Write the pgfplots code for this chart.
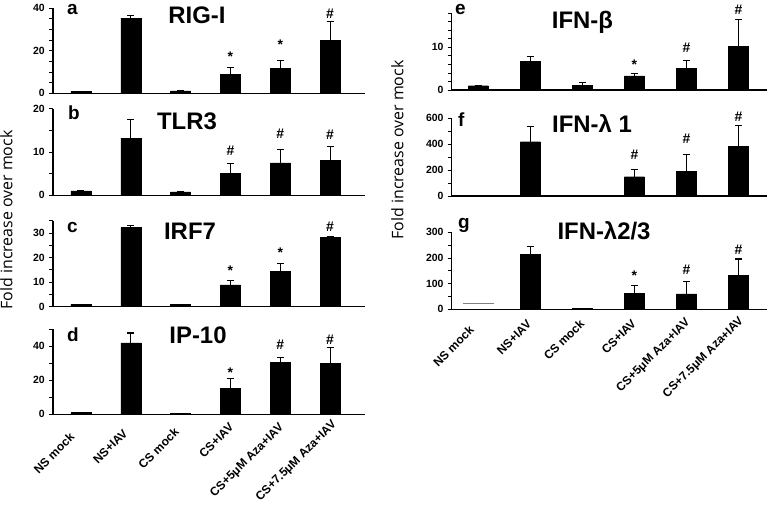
\documentclass[border=0pt]{standalone}
\usepackage{pgfplots}
\pgfplotsset{compat=1.18}
\usepackage{fontspec}
\setmainfont{Liberation Sans}
\newfontfamily\arialf{Liberation Sans}
\newfontfamily\opensans{Open Sans}
\def\lshift{{-17,-12,-10,-3,-3,1}}
\def\rshift{{-14,-6,-5,-5,-3,-1}}
\begin{document}
\begin{tikzpicture}
\useasboundingbox (0bp,0bp) rectangle (778bp,516bp);
\pgfplotsset{
  panel/.style={
    scale only axis, width=312bp,
    axis x line=bottom, axis y line=left,
    axis line style={-, line width=1.3pt, black},
    ymin=0, xmin=-0.56, xmax=5.7,
    xtick={0,...,5}, xticklabels={},
    xtick style={draw=none},
    tick align=outside,
    every tick/.style={line width=0.9pt, black},
    major tick length=4bp, minor tick length=4bp,
    yticklabel style={font=\bfseries\fontsize{10.5}{12}\selectfont, inner sep=1bp, xshift=-3bp},
    /pgf/number format/assume math mode=true,
    scaled y ticks=false,
    clip=false,
  },
  rpanel/.style={panel, width=315bp, xmin=-0.51, xmax=5.54},
  bars/.style={ybar, bar width=20bp, fill=black, draw=black,
    error bars/y dir=plus, error bars/y explicit,
    error bars/error bar style={line width=1.1pt, black},
    error bars/error mark options={rotate=90, black, line width=1.1pt, mark size=3.5bp}},
  catlabels/.style={xticklabels={NS mock, NS+IAV, CS mock, CS+IAV, CS+5μM Aza+IAV, CS+7.5μM Aza+IAV},
    xticklabel style={rotate=45, anchor=north east, font=\bfseries\fontsize{12}{14}\selectfont, inner sep=1bp}},
}
\tikzset{
  sym/.style={anchor=base, font=\arialf\bfseries\fontsize{14}{16}\selectfont, inner sep=0pt},
  ttl/.style={anchor=base, font=\arialf\bfseries\fontsize{24}{28}\selectfont, inner sep=0pt},
  let/.style={anchor=base west, font=\arialf\bfseries\fontsize{19}{22}\selectfont, inner sep=0pt},
}
% ---------- a: RIG-I
\begin{axis}[panel, at={(53bp,422.7bp)}, anchor=south west, height=85bp,
  ymax=40, ytick={0,20,40}, minor ytick={5,10,15,25,30,35}]
\addplot[bars] coordinates {(0,1.0) +- (0,0) (1,35.4) +- (0,1.2) (2,1.1) +- (0,0) (3,8.9) +- (0,3.3) (4,11.9) +- (0,3.5) (5,25.0) +- (0,8.6)};
\node[sym] at (axis cs:3,14.8) {*};
\node[sym] at (axis cs:4,20.4) {*};
\node[sym] at (axis cs:5,35.3) {\#};
\end{axis}
% ---------- b: TLR3
\begin{axis}[panel, at={(53bp,320.7bp)}, anchor=south west, height=86.6bp,
  ymax=20, ytick={0,10,20}, minor ytick={5,15}]
\addplot[bars] coordinates {(0,1.0) +- (0,0) (1,13.2) +- (0,4.4) (2,0.8) +- (0,0) (3,5.1) +- (0,2.3) (4,7.5) +- (0,3.0) (5,8.1) +- (0,3.2)};
\node[sym] at (axis cs:3,9.3) {\#};
\node[sym] at (axis cs:4,13.2) {\#};
\node[sym] at (axis cs:5,12.8) {\#};
\end{axis}
% ---------- c: IRF7
\begin{axis}[panel, at={(53bp,209.3bp)}, anchor=south west, height=86bp,
  ymax=35, ytick={0,10,20,30}, minor ytick={5,15,25,35}]
\addplot[bars] coordinates {(0,1.0) +- (0,0) (1,32.3) +- (0,0.7) (2,1.0) +- (0,0) (3,8.9) +- (0,1.7) (4,14.4) +- (0,3.0) (5,28.3) +- (0,0.3)};
\node[sym] at (axis cs:3,12.9) {*};
\node[sym] at (axis cs:4,20.1) {*};
\node[sym] at (axis cs:5,30.6) {\#};
\end{axis}
% ---------- d: IP-10
\begin{axis}[panel, catlabels, at={(53bp,101.7bp)}, anchor=south west, height=85bp,
  xticklabel style={xshift={\lshift[\ticknum]*1bp}},
  ymax=50, ytick={0,20,40}, minor ytick={10,30,50}]
\addplot[bars] coordinates {(0,1.0) +- (0,0) (1,42.0) +- (0,5.8) (2,0.6) +- (0,0) (3,15.2) +- (0,5.8) (4,30.7) +- (0,2.9) (5,30.1) +- (0,9.3)};
\node[sym] at (axis cs:3,21.7) {*};
\node[sym] at (axis cs:4,38.4) {\#};
\node[sym] at (axis cs:5,41.3) {\#};
\end{axis}
% ---------- e: IFN-beta
\begin{axis}[rpanel, at={(451.7bp,426bp)}, anchor=south west, height=76.7bp,
  ymax=18, ytick={0,10}, minor ytick={2,4,6,8,12,14,16,18}]
\addplot[bars] coordinates {(0,1.0) +- (0,0) (1,6.7) +- (0,1.2) (2,1.1) +- (0,0.7) (3,3.3) +- (0,0.5) (4,5.1) +- (0,1.8) (5,10.3) +- (0,6.2)};
\node[sym] at (axis cs:3,4.9) {*};
\node[sym] at (axis cs:4,8.8) {\#};
\node[sym] at (axis cs:5,17.7) {\#};
\end{axis}
% ---------- f: IFN-lambda 1
\begin{axis}[rpanel, at={(451.7bp,320bp)}, anchor=south west, height=77.7bp,
  ymax=600, ytick={0,200,400,600}, minor ytick={100,300,500}]
\addplot[bars] coordinates {(1,419) +- (0,121) (3,149) +- (0,59) (4,188) +- (0,129) (5,381) +- (0,160)};
\node[sym] at (axis cs:3,278) {\#};
\node[sym] at (axis cs:4,409) {\#};
\node[sym] at (axis cs:5,574) {\#};
\end{axis}
% ---------- g: IFN-lambda 2/3
\begin{axis}[rpanel, catlabels, at={(451.7bp,206.7bp)}, anchor=south west, height=77bp,
  xticklabel style={xshift={\rshift[\ticknum]*1bp}},
  ymax=300, ytick={0,100,200,300}, minor ytick={50,150,250}]
\addplot[gray, line width=0.8pt] coordinates {(-0.3,23) (0.3,23)};
\addplot[bars] coordinates {(1,215) +- (0,31) (2,3) +- (0,0) (3,61) +- (0,33) (4,60) +- (0,49) (5,131) +- (0,65)};
\node[sym] at (axis cs:3,113) {*};
\node[sym] at (axis cs:4,134) {\#};
\node[sym] at (axis cs:5,212) {\#};
\end{axis}
% ---------- titles and letters
\node[ttl] at (197bp,492.7bp) {RIG-I};
\node[ttl] at (187bp,386bp) {TLR3};
\node[ttl] at (190bp,276.7bp) {IRF7};
\node[ttl] at (198bp,172.7bp) {IP-10};
\node[ttl] at (582.5bp,487.7bp) {IFN-β};
\node[ttl] at (592bp,383bp) {IFN-λ 1};
\node[ttl] at (604bp,276bp) {IFN-λ2/3};
\node[let] at (67bp,501.5bp) {a};
\node[let] at (68bp,396bp) {b};
\node[let] at (67bp,283.3bp) {c};
\node[let] at (67bp,174.3bp) {d};
\node[let] at (455bp,501.5bp) {e};
\node[let] at (458bp,389.3bp) {f};
\node[let] at (458bp,287bp) {g};
% ---------- y labels
\node[rotate=90, anchor=base, font=\opensans\fontsize{16}{19}\selectfont, inner sep=0pt] at (12.3bp,296bp) {Fold increase over mock};
\node[rotate=90, anchor=base, font=\opensans\fontsize{16}{19}\selectfont, inner sep=0pt] at (403.3bp,366bp) {Fold increase over mock};
\end{tikzpicture}
\end{document}
